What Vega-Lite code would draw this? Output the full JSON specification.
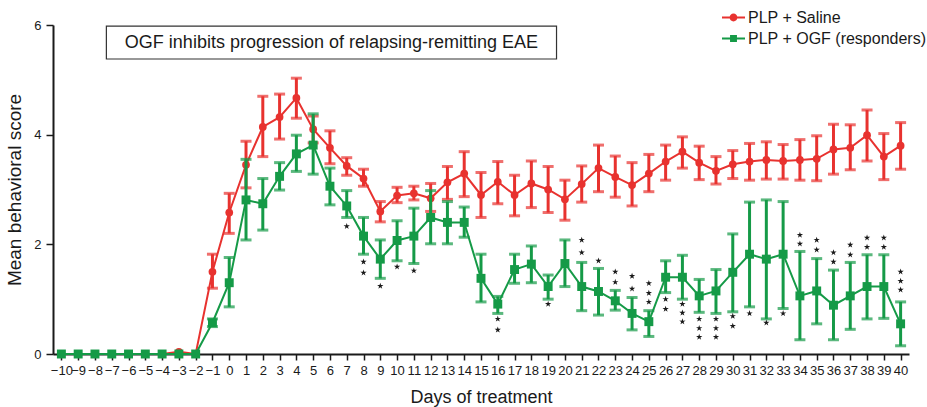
{
  "$schema": "https://vega.github.io/schema/vega-lite/v6.json",
  "width": 856,
  "height": 329,
  "autosize": {"type": "none"},
  "padding": {"left": 53, "top": 25, "right": 18, "bottom": 53},
  "background": "white",
  "config": {
    "font": "Liberation Sans",
    "view": {"stroke": null},
    "axis": {"grid": false, "domainColor": "#1a1a1a", "domainWidth": 2, "tickColor": "#1a1a1a", "tickWidth": 1.5, "labelColor": "#1a1a1a", "titleColor": "#1a1a1a", "titleFontWeight": "normal"}
  },
  "datasets": {
    "series": [
      {"group": "PLP + Saline", "day": -10, "mean": 0},
      {"group": "PLP + Saline", "day": -9, "mean": 0},
      {"group": "PLP + Saline", "day": -8, "mean": 0},
      {"group": "PLP + Saline", "day": -7, "mean": 0},
      {"group": "PLP + Saline", "day": -6, "mean": 0},
      {"group": "PLP + Saline", "day": -5, "mean": 0},
      {"group": "PLP + Saline", "day": -4, "mean": 0},
      {"group": "PLP + Saline", "day": -3, "mean": 0.04},
      {"group": "PLP + Saline", "day": -2, "mean": 0},
      {"group": "PLP + Saline", "day": -1, "mean": 1.5, "lo": 1.2, "hi": 1.82},
      {"group": "PLP + Saline", "day": 0, "mean": 2.58, "lo": 2.2, "hi": 2.93},
      {"group": "PLP + Saline", "day": 1, "mean": 3.45, "lo": 3.03, "hi": 3.88},
      {"group": "PLP + Saline", "day": 2, "mean": 4.14, "lo": 3.6, "hi": 4.7},
      {"group": "PLP + Saline", "day": 3, "mean": 4.32, "lo": 3.92, "hi": 4.74},
      {"group": "PLP + Saline", "day": 4, "mean": 4.67, "lo": 4.3, "hi": 5.03},
      {"group": "PLP + Saline", "day": 5, "mean": 4.1, "lo": 3.85, "hi": 4.34},
      {"group": "PLP + Saline", "day": 6, "mean": 3.76, "lo": 3.47, "hi": 4.07},
      {"group": "PLP + Saline", "day": 7, "mean": 3.43, "lo": 3.26, "hi": 3.58},
      {"group": "PLP + Saline", "day": 8, "mean": 3.2, "lo": 3.06, "hi": 3.37},
      {"group": "PLP + Saline", "day": 9, "mean": 2.6, "lo": 2.41, "hi": 2.78},
      {"group": "PLP + Saline", "day": 10, "mean": 2.89, "lo": 2.76, "hi": 3.04},
      {"group": "PLP + Saline", "day": 11, "mean": 2.93, "lo": 2.81, "hi": 3.06},
      {"group": "PLP + Saline", "day": 12, "mean": 2.84, "lo": 2.6, "hi": 3.11},
      {"group": "PLP + Saline", "day": 13, "mean": 3.13, "lo": 2.82, "hi": 3.42},
      {"group": "PLP + Saline", "day": 14, "mean": 3.29, "lo": 2.87, "hi": 3.69},
      {"group": "PLP + Saline", "day": 15, "mean": 2.9, "lo": 2.49, "hi": 3.31},
      {"group": "PLP + Saline", "day": 16, "mean": 3.14, "lo": 2.74, "hi": 3.51},
      {"group": "PLP + Saline", "day": 17, "mean": 2.9, "lo": 2.52, "hi": 3.26},
      {"group": "PLP + Saline", "day": 18, "mean": 3.11, "lo": 2.67, "hi": 3.52},
      {"group": "PLP + Saline", "day": 19, "mean": 3.0, "lo": 2.58, "hi": 3.42},
      {"group": "PLP + Saline", "day": 20, "mean": 2.82, "lo": 2.44, "hi": 3.17},
      {"group": "PLP + Saline", "day": 21, "mean": 3.1, "lo": 2.77, "hi": 3.43},
      {"group": "PLP + Saline", "day": 22, "mean": 3.39, "lo": 2.96, "hi": 3.81},
      {"group": "PLP + Saline", "day": 23, "mean": 3.23, "lo": 2.86, "hi": 3.61},
      {"group": "PLP + Saline", "day": 24, "mean": 3.08, "lo": 2.7, "hi": 3.49},
      {"group": "PLP + Saline", "day": 25, "mean": 3.29, "lo": 2.96, "hi": 3.64},
      {"group": "PLP + Saline", "day": 26, "mean": 3.51, "lo": 3.17, "hi": 3.81},
      {"group": "PLP + Saline", "day": 27, "mean": 3.69, "lo": 3.39, "hi": 3.96},
      {"group": "PLP + Saline", "day": 28, "mean": 3.49, "lo": 3.18, "hi": 3.79},
      {"group": "PLP + Saline", "day": 29, "mean": 3.34, "lo": 3.1, "hi": 3.6},
      {"group": "PLP + Saline", "day": 30, "mean": 3.46, "lo": 3.2, "hi": 3.71},
      {"group": "PLP + Saline", "day": 31, "mean": 3.51, "lo": 3.17, "hi": 3.84},
      {"group": "PLP + Saline", "day": 32, "mean": 3.54, "lo": 3.19, "hi": 3.87},
      {"group": "PLP + Saline", "day": 33, "mean": 3.52, "lo": 3.19, "hi": 3.82},
      {"group": "PLP + Saline", "day": 34, "mean": 3.54, "lo": 3.17, "hi": 3.91},
      {"group": "PLP + Saline", "day": 35, "mean": 3.56, "lo": 3.16, "hi": 3.98},
      {"group": "PLP + Saline", "day": 36, "mean": 3.73, "lo": 3.28, "hi": 4.19},
      {"group": "PLP + Saline", "day": 37, "mean": 3.76, "lo": 3.36, "hi": 4.18},
      {"group": "PLP + Saline", "day": 38, "mean": 3.99, "lo": 3.52, "hi": 4.45},
      {"group": "PLP + Saline", "day": 39, "mean": 3.6, "lo": 3.18, "hi": 4.02},
      {"group": "PLP + Saline", "day": 40, "mean": 3.8, "lo": 3.37, "hi": 4.22},
      {"group": "PLP + OGF (responders)", "day": -10, "mean": 0},
      {"group": "PLP + OGF (responders)", "day": -9, "mean": 0},
      {"group": "PLP + OGF (responders)", "day": -8, "mean": 0},
      {"group": "PLP + OGF (responders)", "day": -7, "mean": 0},
      {"group": "PLP + OGF (responders)", "day": -6, "mean": 0},
      {"group": "PLP + OGF (responders)", "day": -5, "mean": 0},
      {"group": "PLP + OGF (responders)", "day": -4, "mean": 0},
      {"group": "PLP + OGF (responders)", "day": -3, "mean": 0},
      {"group": "PLP + OGF (responders)", "day": -2, "mean": 0},
      {"group": "PLP + OGF (responders)", "day": -1, "mean": 0.57, "lo": 0.5, "hi": 0.64},
      {"group": "PLP + OGF (responders)", "day": 0, "mean": 1.3, "lo": 0.86, "hi": 1.76},
      {"group": "PLP + OGF (responders)", "day": 1, "mean": 2.81, "lo": 2.08, "hi": 3.55},
      {"group": "PLP + OGF (responders)", "day": 2, "mean": 2.74, "lo": 2.26, "hi": 3.2},
      {"group": "PLP + OGF (responders)", "day": 3, "mean": 3.24, "lo": 2.99, "hi": 3.49},
      {"group": "PLP + OGF (responders)", "day": 4, "mean": 3.65, "lo": 3.33, "hi": 3.99},
      {"group": "PLP + OGF (responders)", "day": 5, "mean": 3.81, "lo": 3.28, "hi": 4.38},
      {"group": "PLP + OGF (responders)", "day": 6, "mean": 3.06, "lo": 2.72, "hi": 3.39},
      {"group": "PLP + OGF (responders)", "day": 7, "mean": 2.7, "lo": 2.49, "hi": 2.98},
      {"group": "PLP + OGF (responders)", "day": 8, "mean": 2.15, "lo": 1.82, "hi": 2.49},
      {"group": "PLP + OGF (responders)", "day": 9, "mean": 1.73, "lo": 1.38, "hi": 2.08},
      {"group": "PLP + OGF (responders)", "day": 10, "mean": 2.07, "lo": 1.7, "hi": 2.43},
      {"group": "PLP + OGF (responders)", "day": 11, "mean": 2.15, "lo": 1.65, "hi": 2.66},
      {"group": "PLP + OGF (responders)", "day": 12, "mean": 2.49, "lo": 2.01, "hi": 2.98},
      {"group": "PLP + OGF (responders)", "day": 13, "mean": 2.4, "lo": 2.01, "hi": 2.78},
      {"group": "PLP + OGF (responders)", "day": 14, "mean": 2.4, "lo": 2.13, "hi": 2.68},
      {"group": "PLP + OGF (responders)", "day": 15, "mean": 1.38, "lo": 0.95, "hi": 1.82},
      {"group": "PLP + OGF (responders)", "day": 16, "mean": 0.91, "lo": 0.74, "hi": 1.05},
      {"group": "PLP + OGF (responders)", "day": 17, "mean": 1.54, "lo": 1.29, "hi": 1.82},
      {"group": "PLP + OGF (responders)", "day": 18, "mean": 1.64, "lo": 1.3, "hi": 1.97},
      {"group": "PLP + OGF (responders)", "day": 19, "mean": 1.23, "lo": 1.0, "hi": 1.44},
      {"group": "PLP + OGF (responders)", "day": 20, "mean": 1.65, "lo": 1.23, "hi": 2.08},
      {"group": "PLP + OGF (responders)", "day": 21, "mean": 1.23, "lo": 0.79, "hi": 1.67},
      {"group": "PLP + OGF (responders)", "day": 22, "mean": 1.14, "lo": 0.71, "hi": 1.56},
      {"group": "PLP + OGF (responders)", "day": 23, "mean": 0.97, "lo": 0.8, "hi": 1.16},
      {"group": "PLP + OGF (responders)", "day": 24, "mean": 0.74, "lo": 0.44, "hi": 1.03},
      {"group": "PLP + OGF (responders)", "day": 25, "mean": 0.59, "lo": 0.32, "hi": 0.79},
      {"group": "PLP + OGF (responders)", "day": 26, "mean": 1.4, "lo": 1.12, "hi": 1.7},
      {"group": "PLP + OGF (responders)", "day": 27, "mean": 1.4, "lo": 1.0, "hi": 1.8},
      {"group": "PLP + OGF (responders)", "day": 28, "mean": 1.06, "lo": 0.76, "hi": 1.36},
      {"group": "PLP + OGF (responders)", "day": 29, "mean": 1.15, "lo": 0.74, "hi": 1.54},
      {"group": "PLP + OGF (responders)", "day": 30, "mean": 1.49, "lo": 0.77, "hi": 2.19},
      {"group": "PLP + OGF (responders)", "day": 31, "mean": 1.82, "lo": 0.86, "hi": 2.77},
      {"group": "PLP + OGF (responders)", "day": 32, "mean": 1.73, "lo": 0.64, "hi": 2.81},
      {"group": "PLP + OGF (responders)", "day": 33, "mean": 1.82, "lo": 0.83, "hi": 2.78},
      {"group": "PLP + OGF (responders)", "day": 34, "mean": 1.06, "lo": 0.26, "hi": 1.87},
      {"group": "PLP + OGF (responders)", "day": 35, "mean": 1.15, "lo": 0.55, "hi": 1.74},
      {"group": "PLP + OGF (responders)", "day": 36, "mean": 0.89, "lo": 0.26, "hi": 1.53},
      {"group": "PLP + OGF (responders)", "day": 37, "mean": 1.06, "lo": 0.45, "hi": 1.67},
      {"group": "PLP + OGF (responders)", "day": 38, "mean": 1.23, "lo": 0.64, "hi": 1.81},
      {"group": "PLP + OGF (responders)", "day": 39, "mean": 1.23, "lo": 0.65, "hi": 1.81},
      {"group": "PLP + OGF (responders)", "day": 40, "mean": 0.55, "lo": 0.15, "hi": 0.95}
    ],
    "stars": [
      {"day": 7, "y": 2.33},
      {"day": 8, "y": 1.68}, {"day": 8, "y": 1.48},
      {"day": 9, "y": 1.24},
      {"day": 10, "y": 1.59},
      {"day": 11, "y": 1.52},
      {"day": 16, "y": 0.64}, {"day": 16, "y": 0.44},
      {"day": 19, "y": 0.91},
      {"day": 21, "y": 2.08}, {"day": 21, "y": 1.85},
      {"day": 22, "y": 1.7},
      {"day": 23, "y": 1.5}, {"day": 23, "y": 1.31},
      {"day": 24, "y": 1.42}, {"day": 24, "y": 1.19},
      {"day": 25, "y": 1.29}, {"day": 25, "y": 1.11}, {"day": 25, "y": 0.95},
      {"day": 26, "y": 1.0}, {"day": 26, "y": 0.82},
      {"day": 27, "y": 0.91}, {"day": 27, "y": 0.75}, {"day": 27, "y": 0.59},
      {"day": 28, "y": 0.64}, {"day": 28, "y": 0.47}, {"day": 28, "y": 0.31},
      {"day": 29, "y": 0.64}, {"day": 29, "y": 0.47}, {"day": 29, "y": 0.31},
      {"day": 30, "y": 0.69}, {"day": 30, "y": 0.51},
      {"day": 31, "y": 0.74},
      {"day": 32, "y": 0.57},
      {"day": 33, "y": 0.74},
      {"day": 34, "y": 2.17}, {"day": 34, "y": 2.01},
      {"day": 35, "y": 2.08}, {"day": 35, "y": 1.9},
      {"day": 36, "y": 1.85}, {"day": 36, "y": 1.68},
      {"day": 37, "y": 1.99}, {"day": 37, "y": 1.81},
      {"day": 38, "y": 2.12}, {"day": 38, "y": 1.95},
      {"day": 39, "y": 2.12}, {"day": 39, "y": 1.95},
      {"day": 40, "y": 1.5}, {"day": 40, "y": 1.33}, {"day": 40, "y": 1.17}
    ]
  },
  "layer": [
    {
      "data": {"name": "series"},
      "encoding": {
        "x": {
          "field": "day", "type": "quantitative",
          "scale": {"domain": [-10.5, 40.5], "nice": false, "zero": false},
          "axis": {
            "values": [-10,-9,-8,-7,-6,-5,-4,-3,-2,-1,0,1,2,3,4,5,6,7,8,9,10,11,12,13,14,15,16,17,18,19,20,21,22,23,24,25,26,27,28,29,30,31,32,33,34,35,36,37,38,39,40],
            "format": "d", "labelOverlap": false, "labelFlush": false,
            "labelFontSize": 13, "labelPadding": 4, "tickSize": 6,
            "title": "Days of treatment", "titleFontSize": 18, "titlePadding": 11
          }
        },
        "y": {
          "field": "mean", "type": "quantitative",
          "scale": {"domain": [0, 6], "nice": false},
          "axis": {
            "values": [0, 2, 4, 6], "format": "d", "labelFontSize": 13, "labelPadding": 5, "tickSize": 7,
            "title": "Mean behavioral score", "titleFontSize": 19, "titlePadding": 9
          }
        },
        "color": {
          "field": "group", "type": "nominal",
          "scale": {"domain": ["PLP + Saline", "PLP + OGF (responders)"], "range": ["#e8322f", "#159a47"]},
          "legend": {
            "title": null, "orient": "none", "legendX": 669, "legendY": -19, "direction": "vertical",
            "padding": 0, "rowPadding": 1, "labelFontSize": 16, "labelOffset": 3, "labelColor": "#1a1a1a",
            "labelLimit": 400, "symbolSize": 529,
            "encode": {
              "symbols": {
                "update": {
                  "shape": {"signal": "datum.value === 'PLP + Saline' ? 'M-1,-0.09L-0.3,-0.09L-0.3,0.09L-1,0.09Z M0.3,-0.09L1,-0.09L1,0.09L0.3,0.09Z M-0.34,0A0.34,0.34 0 1,1 0.34,0A0.34,0.34 0 1,1 -0.34,0Z' : 'M-1,-0.09L-0.3,-0.09L-0.3,0.09L-1,0.09Z M0.3,-0.09L1,-0.09L1,0.09L0.3,0.09Z M-0.3,-0.3L0.3,-0.3L0.3,0.3L-0.3,0.3Z'"},
                  "fill": {"scale": "color", "field": "value"},
                  "fillOpacity": {"value": 1},
                  "strokeWidth": {"value": 0},
                  "opacity": {"value": 1}
                }
              }
            }
          }
        }
      },
      "layer": [
        {
          "transform": [{"filter": {"field": "group", "equal": "PLP + Saline"}}],
          "mark": {"type": "line", "strokeWidth": 2}
        },
        {
          "transform": [{"filter": {"field": "group", "equal": "PLP + Saline"}}],
          "mark": {"type": "rule", "strokeWidth": 3},
          "encoding": {"y": {"field": "lo", "type": "quantitative"}, "y2": {"field": "hi"}}
        },
        {
          "transform": [{"filter": {"field": "group", "equal": "PLP + Saline"}}],
          "mark": {"type": "tick", "orient": "horizontal", "size": 11, "thickness": 3},
          "encoding": {"y": {"field": "lo", "type": "quantitative"}}
        },
        {
          "transform": [{"filter": {"field": "group", "equal": "PLP + Saline"}}],
          "mark": {"type": "tick", "orient": "horizontal", "size": 11, "thickness": 3},
          "encoding": {"y": {"field": "hi", "type": "quantitative"}}
        },
        {
          "transform": [{"filter": {"field": "group", "equal": "PLP + Saline"}}],
          "mark": {"type": "point", "shape": "circle", "filled": true, "size": 60, "opacity": 1}
        },
        {
          "transform": [{"filter": {"field": "group", "equal": "PLP + OGF (responders)"}}],
          "mark": {"type": "line", "strokeWidth": 2}
        },
        {
          "transform": [{"filter": {"field": "group", "equal": "PLP + OGF (responders)"}}],
          "mark": {"type": "rule", "strokeWidth": 3},
          "encoding": {"y": {"field": "lo", "type": "quantitative"}, "y2": {"field": "hi"}}
        },
        {
          "transform": [{"filter": {"field": "group", "equal": "PLP + OGF (responders)"}}],
          "mark": {"type": "tick", "orient": "horizontal", "size": 11, "thickness": 3},
          "encoding": {"y": {"field": "lo", "type": "quantitative"}}
        },
        {
          "transform": [{"filter": {"field": "group", "equal": "PLP + OGF (responders)"}}],
          "mark": {"type": "tick", "orient": "horizontal", "size": 11, "thickness": 3},
          "encoding": {"y": {"field": "hi", "type": "quantitative"}}
        },
        {
          "transform": [{"filter": {"field": "group", "equal": "PLP + OGF (responders)"}}],
          "mark": {"type": "point", "shape": "square", "filled": true, "size": 80, "opacity": 1}
        },
        {
          "data": {"name": "stars"},
          "mark": {"type": "point", "filled": true, "opacity": 1, "size": 44, "strokeWidth": 0,
            "shape": "M0,-1L0.223,-0.307L0.951,-0.309L0.361,0.117L0.588,0.809L0,0.38L-0.588,0.809L-0.361,0.117L-0.951,-0.309L-0.223,-0.307Z"},
          "encoding": {
            "x": {"field": "day", "type": "quantitative"},
            "y": {"field": "y", "type": "quantitative"},
            "color": {"value": "#1a1a1a"}
          }
        }
      ]
    },
    {
      "data": {"values": [{"label": "OGF inhibits progression of relapsing-remitting EAE"}]},
      "encoding": {
        "x": {
          "datum": -7.32, "type": "quantitative",
          "scale": {"domain": [-10.5, 40.5], "nice": false, "zero": false},
          "axis": {
            "values": [-10,-9,-8,-7,-6,-5,-4,-3,-2,-1,0,1,2,3,4,5,6,7,8,9,10,11,12,13,14,15,16,17,18,19,20,21,22,23,24,25,26,27,28,29,30,31,32,33,34,35,36,37,38,39,40],
            "format": "d", "labelOverlap": false, "labelFlush": false,
            "labelFontSize": 13, "labelPadding": 4, "tickSize": 6,
            "title": "Days of treatment", "titleFontSize": 18, "titlePadding": 11
          }
        },
        "y": {
          "datum": 5.98, "type": "quantitative",
          "scale": {"domain": [0, 6], "nice": false},
          "axis": {
            "values": [0, 2, 4, 6], "format": "d", "labelFontSize": 13, "labelPadding": 5, "tickSize": 7,
            "title": "Mean behavioral score", "titleFontSize": 19, "titlePadding": 9
          }
        }
      },
      "layer": [
        {
          "mark": {"type": "rect", "fill": "white", "fillOpacity": 0, "stroke": "#333333", "strokeWidth": 1.2},
          "encoding": {"x2": {"datum": 19.5}, "y2": {"datum": 5.38}}
        },
        {
          "mark": {"type": "text", "fontSize": 18, "align": "center", "baseline": "middle", "color": "#1a1a1a"},
          "encoding": {
            "x": {"datum": 6.09, "type": "quantitative"},
            "y": {"datum": 5.67, "type": "quantitative"},
            "text": {"field": "label", "type": "nominal"}
          }
        }
      ]
    }
  ]
}
